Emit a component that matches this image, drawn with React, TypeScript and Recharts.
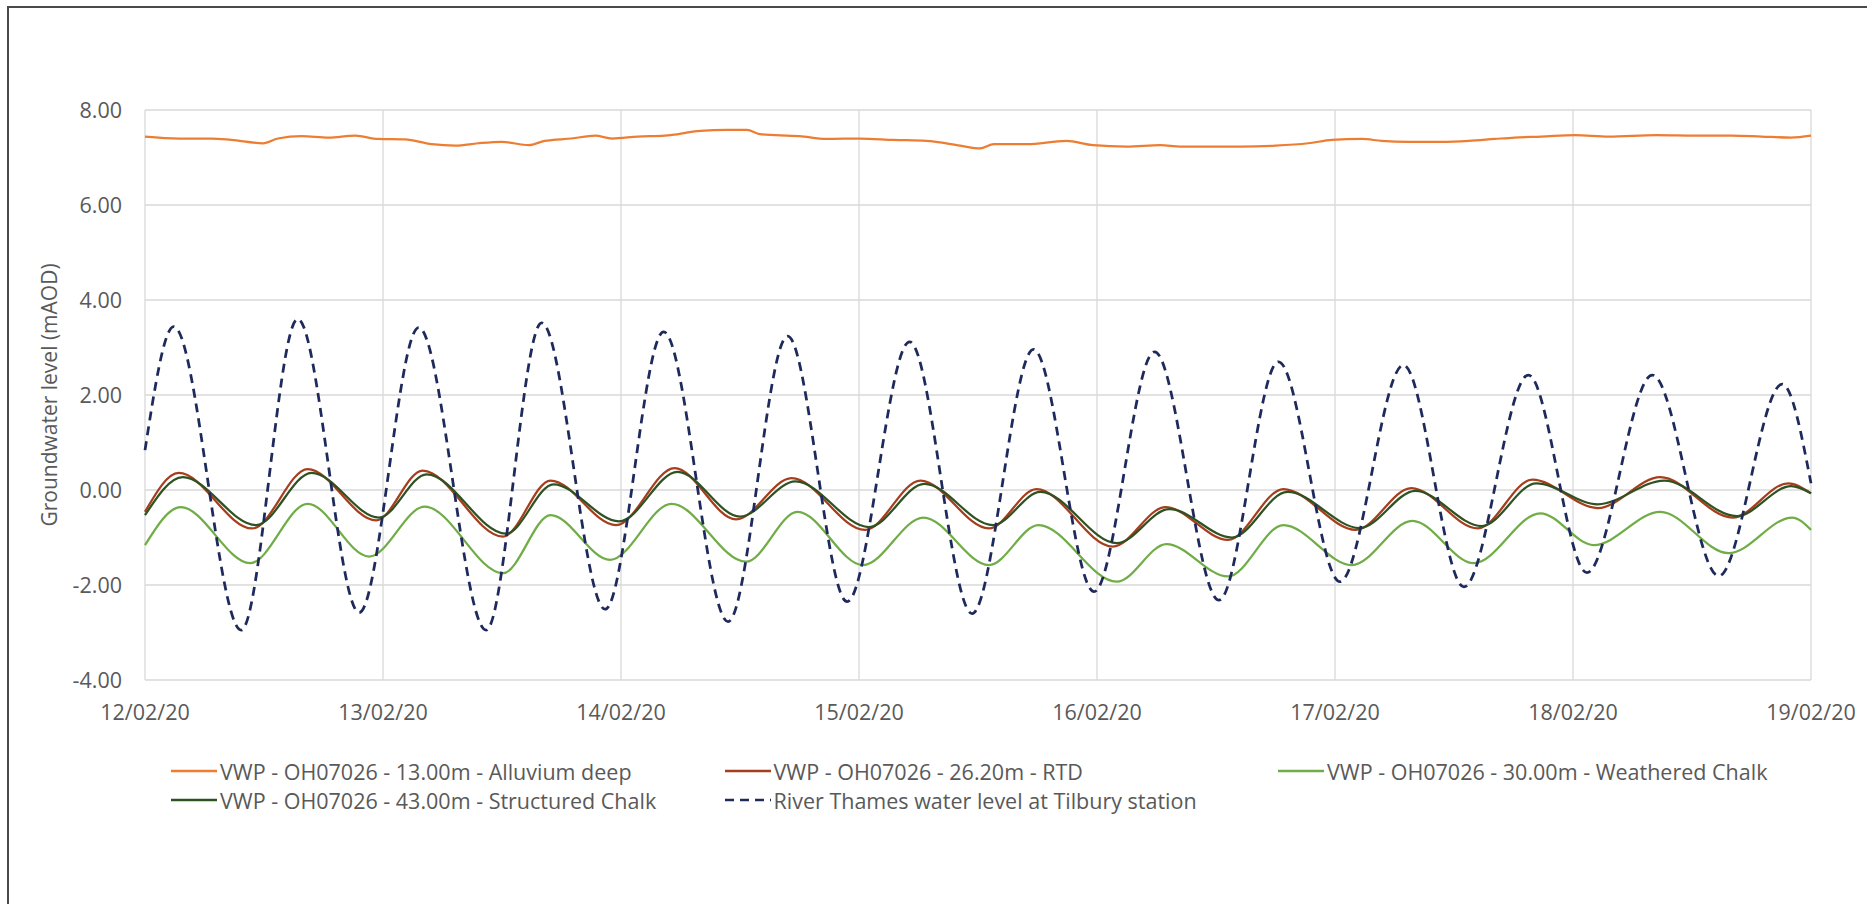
import React from 'react';
import { LineChart, Line, XAxis, YAxis, CartesianGrid } from 'recharts';

// hours since 12/02/20 00:00, level in mAOD
const alluviumDeep: [number, number][] = [
  [0, 7.44], [3.4, 7.4], [6.7, 7.4], [8.7, 7.37], [11.9, 7.3], [13.4, 7.4], [15.8, 7.45],
  [18.5, 7.42], [21.2, 7.46], [23.5, 7.39], [26.2, 7.38], [28.9, 7.28], [31.3, 7.25],
  [33.6, 7.3], [36.0, 7.33], [38.7, 7.26], [40.3, 7.35], [43.0, 7.4], [45.4, 7.46],
  [47.1, 7.4], [49.7, 7.44], [52.4, 7.46], [56.0, 7.56], [58.7, 7.58], [60.7, 7.58],
  [62.0, 7.49], [66.0, 7.45], [68.7, 7.39], [72.1, 7.4], [75.5, 7.37], [78.8, 7.35],
  [82.2, 7.25], [84.2, 7.19], [85.6, 7.28], [88.9, 7.28], [92.9, 7.35], [95.6, 7.26],
  [99.0, 7.23], [102.4, 7.26], [104.4, 7.23], [107.2, 7.23], [110.6, 7.23], [114.0, 7.25],
  [117.3, 7.3], [119.7, 7.37], [122.7, 7.39], [124.7, 7.35], [127.4, 7.33], [130.8, 7.33],
  [133.5, 7.35], [136.1, 7.39], [138.1, 7.42], [140.8, 7.44], [144.2, 7.47], [147.6, 7.44],
  [152.4, 7.47], [156.4, 7.46], [160.0, 7.46], [163.0, 7.44], [166.0, 7.42], [168, 7.46],
];

const rtd: [number, number][] = [
  [0, -0.46], [3.4, 0.36], [10.8, -0.81], [16.4, 0.44], [23.3, -0.64], [28.0, 0.41],
  [36.1, -0.98], [40.9, 0.2], [47.5, -0.74], [53.4, 0.46], [59.6, -0.62], [65.2, 0.25],
  [72.6, -0.84], [78.2, 0.2], [85.1, -0.81], [89.9, 0.02], [97.6, -1.19], [102.9, -0.36],
  [109.2, -1.05], [114.8, 0.02], [122.1, -0.84], [127.7, 0.04], [134.4, -0.81], [139.9, 0.22],
  [146.5, -0.38], [152.8, 0.27], [160.1, -0.58], [165.7, 0.14], [168, -0.07],
];

const weatheredChalk: [number, number][] = [
  [0, -1.16], [3.6, -0.36], [10.6, -1.54], [16.4, -0.29], [22.6, -1.4], [28.2, -0.35],
  [36.1, -1.75], [40.9, -0.53], [46.9, -1.47], [53.1, -0.29], [60.6, -1.51], [65.8, -0.46],
  [72.4, -1.58], [78.5, -0.58], [85.1, -1.58], [90.1, -0.74], [98.0, -1.93], [103.0, -1.14],
  [109.2, -1.82], [114.8, -0.74], [121.7, -1.58], [127.8, -0.65], [134.0, -1.54], [140.7, -0.49],
  [146.1, -1.16], [152.8, -0.46], [159.7, -1.33], [166.1, -0.58], [168, -0.84],
];

const structuredChalk: [number, number][] = [
  [0, -0.53], [3.8, 0.27], [11.2, -0.74], [16.8, 0.36], [23.6, -0.58], [28.4, 0.33],
  [36.4, -0.92], [41.2, 0.12], [47.8, -0.66], [53.7, 0.38], [60.0, -0.56], [65.6, 0.18],
  [73.0, -0.78], [78.6, 0.13], [85.5, -0.74], [90.3, -0.04], [98.0, -1.12], [103.3, -0.4],
  [109.6, -1.0], [115.2, -0.04], [122.5, -0.8], [128.1, -0.02], [134.8, -0.76], [140.3, 0.14],
  [146.5, -0.3], [153.2, 0.2], [160.5, -0.55], [166.0, 0.08], [168, -0.07],
];

const riverThames: [number, number][] = [
  [0, 0.84], [2.9, 3.44], [9.7, -2.95], [15.4, 3.6], [21.6, -2.58], [27.6, 3.42],
  [34.4, -2.95], [40.0, 3.52], [46.4, -2.51], [52.3, 3.33], [58.8, -2.77], [64.8, 3.24],
  [70.8, -2.35], [77.1, 3.12], [83.4, -2.6], [89.6, 2.96], [95.7, -2.14], [101.8, 2.91],
  [108.3, -2.32], [114.3, 2.7], [120.5, -1.93], [126.9, 2.63], [133.0, -2.04], [139.5, 2.42],
  [145.4, -1.74], [152.0, 2.42], [158.7, -1.81], [165.1, 2.23], [168, 0.14],
];

const xTicks = [0, 24, 48, 72, 96, 120, 144, 168];
const xTickLabels = ['12/02/20', '13/02/20', '14/02/20', '15/02/20', '16/02/20', '17/02/20', '18/02/20', '19/02/20'];
const yTicks = [-4, -2, 0, 2, 4, 6, 8];

const series = [
  { name: 'VWP - OH07026 - 13.00m - Alluvium deep', data: alluviumDeep, color: '#ED7D31', dash: undefined },
  { name: 'VWP - OH07026 - 26.20m - RTD', data: rtd, color: '#A63E1E', dash: undefined },
  { name: 'VWP - OH07026 - 30.00m - Weathered Chalk', data: weatheredChalk, color: '#70AD47', dash: undefined },
  { name: 'VWP - OH07026 - 43.00m - Structured Chalk', data: structuredChalk, color: '#2F5222', dash: undefined },
  { name: 'River Thames water level at Tilbury station', data: riverThames, color: '#1F2A5C', dash: '9 6' },
];

const FONT = '"Open Sans", sans-serif';
const TEXT = '#595959';

const toPoints = (d: [number, number][]) => d.map(([h, v]) => ({ h, v }));

const YLabel = () => (
  <text
    x={0}
    y={0}
    transform="translate(57, 395) rotate(-90)"
    textAnchor="middle"
    fontFamily={FONT}
    fontSize={21}
    fill={TEXT}
  >
    Groundwater level (mAOD)
  </text>
);

const LegendBlock = () => (
  <div style={{ position: 'absolute', left: 171, top: 756, fontFamily: FONT, fontSize: 21.5, color: TEXT }}>
    {series.map((s, i) => (
      <div
        key={s.name}
        style={{
          position: 'absolute',
          left: (i % 3) * 553.5,
          top: Math.floor(i / 3) * 29,
          display: 'flex',
          alignItems: 'center',
          whiteSpace: 'nowrap',
          height: 30,
        }}
      >
        <svg width={46} height={6} style={{ marginRight: 3 }}>
          <line x1={0} y1={3} x2={46} y2={3} stroke={s.color} strokeWidth={2.5} strokeDasharray={s.dash ? '9 6' : undefined} />
        </svg>
        <span>{s.name}</span>
      </div>
    ))}
  </div>
);

export default function App() {
  return (
    <div style={{ position: 'fixed', left: 0, top: 0, width: 1867, height: 904, overflow: 'hidden', background: '#fff' }}>
      <div
        style={{
          position: 'absolute',
          left: 7,
          top: 6,
          right: 0,
          bottom: 0,
          borderLeft: '2px solid #4a4a4a',
          borderTop: '2px solid #4a4a4a',
        }}
      />
      <div style={{ position: 'absolute', left: 0, top: 0 }}>
        <LineChart width={1867} height={904} margin={{ top: 110, right: 56, bottom: 184, left: 0 }}>
          <CartesianGrid stroke="#D9D9D9" strokeWidth={1.3} />
          <XAxis
            type="number"
            dataKey="h"
            domain={[0, 168]}
            ticks={xTicks}
            interval={0}
            tickFormatter={(v: number) => xTickLabels[xTicks.indexOf(v)] ?? ''}
            axisLine={false}
            tickLine={false}
            tickMargin={19}
            height={40}
            tick={{ fill: TEXT, fontSize: 21.5, fontFamily: FONT }}
            allowDuplicatedCategory={false}
          />
          <YAxis
            type="number"
            domain={[-4, 8]}
            ticks={yTicks}
            interval={0}
            tickFormatter={(v: number) => v.toFixed(2)}
            axisLine={false}
            tickLine={false}
            tickMargin={17}
            width={145}
            tick={{ fill: TEXT, fontSize: 21.5, fontFamily: FONT }}
            label={<YLabel />}
          />
          {series.map((s) => (
            <Line
              key={s.name}
              data={toPoints(s.data)}
              dataKey="v"
              type="monotone"
              stroke={s.color}
              strokeWidth={s.dash ? 2.75 : 2.25}
              strokeDasharray={s.dash}
              dot={false}
              activeDot={false}
              isAnimationActive={false}
            />
          ))}
        </LineChart>
      </div>
      <LegendBlock />
    </div>
  );
}
